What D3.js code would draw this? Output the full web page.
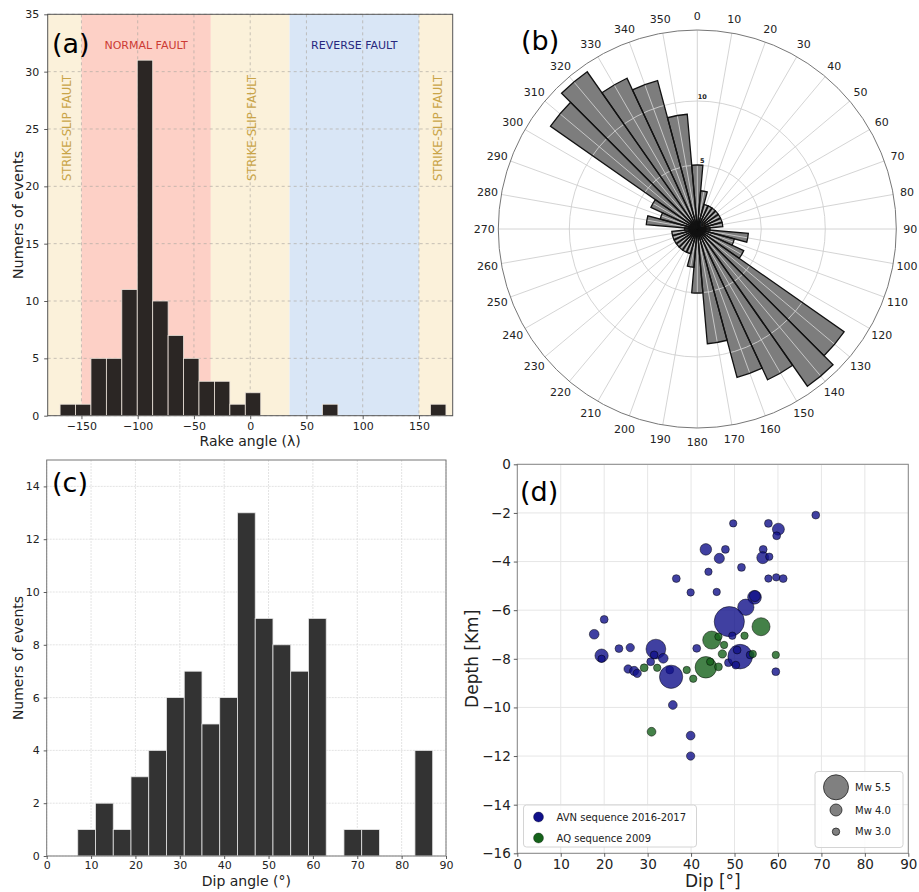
<!DOCTYPE html>
<html>
<head>
<meta charset="utf-8">
<script src="https://cdn.jsdelivr.net/npm/d3@7"></script>
<style>
  body { margin: 0; background: #fff; }
  svg { display: block; }
  text { font-family: "DejaVu Sans", sans-serif; }
</style>
</head>
<body>
<svg id="fig" width="919" height="892"></svg>
<script>
// ---- data ----
// (a) rake histogram
var rakeRange = [-169, 174];
var rakeCounts = [1, 1, 5, 5, 11, 31, 10, 7, 5, 3, 3, 1, 2, 0, 0, 0, 0, 1, 0, 0, 0, 0, 0, 0, 1];
var rakeTicksX = [-150, -100, -50, 0, 50, 100, 150];
var rakeTicksY = [0, 5, 10, 15, 20, 25, 30, 35];
var zoneNames = ["STRIKE-SLIP FAULT", "NORMAL FAULT", "STRIKE-SLIP FAULT", "REVERSE FAULT", "STRIKE-SLIP FAULT"];
var zoneEdges = [-180, -150, -35, 35, 150, 180];

// (b) strike rose, bins centred every 10 deg
var strikeAngles = d3.range(0, 360, 10);
var strikeCounts = [5, 3, 2, 2, 2, 2, 2, 2, 2, 1, 4, 3, 4, 14, 15, 13, 12, 9,
                    5, 3, 2, 2, 2, 2, 2, 2, 2, 1, 4, 3, 4, 14, 15, 13, 12, 9];
var roseRings = [5, 10];

// (c) dip histogram
var dipRange = [7, 87];
var dipCounts = [1, 2, 1, 3, 4, 6, 7, 5, 6, 13, 9, 8, 7, 9, 0, 1, 1, 0, 0, 4];
var dipTicksX = [0, 10, 20, 30, 40, 50, 60, 70, 80, 90];
var dipTicksY = [0, 2, 4, 6, 8, 10, 12, 14];

// (d) dip vs depth, [dip, depth, Mw]
var avnEvents = [
  [68.7, -2.09, 3.1], [49.7, -2.43, 3.0], [57.8, -2.43, 3.1], [60.1, -2.67, 4.0], [59.7, -2.94, 3.1],
  [43.4, -3.5, 3.9], [47.9, -3.5, 3.1], [56.6, -3.5, 3.1], [46.5, -3.87, 3.6], [56.5, -3.84, 4.0],
  [58.0, -3.8, 3.0], [51.6, -4.24, 3.1], [44.0, -4.42, 3.0], [36.6, -4.7, 3.1], [57.8, -4.7, 3.0],
  [59.6, -4.65, 3.0], [61.2, -4.7, 3.1], [39.9, -5.27, 3.0], [45.9, -5.25, 3.0], [54.6, -5.47, 4.2],
  [54.7, -5.42, 3.8], [52.6, -5.88, 4.5], [48.8, -6.47, 6.1], [20.0, -6.38, 3.1], [17.7, -6.99, 3.5],
  [19.4, -7.87, 4.15], [19.4, -8.0, 3.0], [23.4, -7.58, 3.1], [26.0, -7.54, 3.2], [31.9, -7.6, 4.9],
  [31.5, -7.84, 3.1], [33.6, -7.98, 3.5], [30.7, -8.12, 3.1], [25.5, -8.42, 3.2], [26.9, -8.5, 3.4],
  [27.6, -8.6, 3.2], [35.1, -8.46, 3.1], [35.4, -8.74, 5.3], [41.3, -7.57, 3.1], [48.6, -8.16, 3.1],
  [49.5, -7.05, 3.0], [51.3, -7.91, 5.45], [50.6, -7.64, 3.1], [53.6, -7.84, 3.1], [59.5, -8.53, 3.1],
  [50.3, -8.26, 3.1], [35.8, -9.9, 3.3], [39.9, -11.16, 3.3], [39.9, -12.0, 3.2]
];
var aqEvents = [
  [44.75, -7.23, 4.7], [29.2, -8.37, 3.1], [32.2, -8.37, 3.0], [39.0, -8.46, 3.0], [40.5, -8.82, 3.0],
  [43.4, -8.35, 5.1], [44.4, -8.12, 3.0], [46.3, -8.33, 3.1], [47.2, -7.8, 3.2], [47.6, -7.43, 3.0],
  [46.3, -7.09, 3.0], [52.3, -7.05, 3.0], [56.1, -6.68, 4.7], [54.2, -7.8, 3.0], [59.5, -7.84, 3.0],
  [30.9, -11.0, 3.3]
];
var depthTicks = [0, -2, -4, -6, -8, -10, -12, -14, -16];
var dipTicksD = [0, 10, 20, 30, 40, 50, 60, 70, 80, 90];
var seriesNames = ["AVN sequence 2016-2017", "AQ sequence 2009"];
var mwLegend = [5.5, 4.0, 3.0];

var svg = d3.select("#fig");

function styleAxis(g, size) {
  g.select(".domain").remove();
  g.selectAll(".tick text").attr("font-size", size).attr("fill", "#222")
    .attr("font-family", "DejaVu Sans");
  g.selectAll(".tick line").attr("stroke", "#333").attr("stroke-width", 0.8);
}

function panelLetter(x, y, t) {
  svg.append("text").attr("x", x).attr("y", y).text(t)
    .attr("font-family", "Liberation Sans, Arial, sans-serif")
    .attr("font-size", 27).attr("fill", "#000");
}

// ================= (a) =================
var A = { left: 47.7, right: 452.7, top: 14.3, bottom: 415.7 };
var xA = d3.scaleLinear().domain([-180, 180]).range([A.left, A.right]);
var yA = d3.scaleLinear().domain([0, 35]).range([A.bottom, A.top]);
var gA = svg.append("g");
var zoneFill = { "STRIKE-SLIP FAULT": "#fbf1da", "NORMAL FAULT": "#fdd0c6", "REVERSE FAULT": "#d9e6f6" };
var zoneText = { "STRIKE-SLIP FAULT": "#c9a448", "NORMAL FAULT": "#cc3a34", "REVERSE FAULT": "#28287e" };
var zones = zoneNames.map(function(n, i) { return { name: n, x0: zoneEdges[i], x1: zoneEdges[i + 1] }; });

gA.selectAll(".zone").data(zones).enter().append("rect")
  .attr("x", function(d) { return xA(d.x0); })
  .attr("width", function(d) { return xA(d.x1) - xA(d.x0); })
  .attr("y", A.top).attr("height", A.bottom - A.top)
  .attr("fill", function(d) { return zoneFill[d.name]; });

// dashed grid
gA.selectAll(".gx").data(rakeTicksX).enter().append("line")
  .attr("x1", function(d) { return xA(d); }).attr("x2", function(d) { return xA(d); })
  .attr("y1", A.top).attr("y2", A.bottom)
  .attr("stroke", "#b0aaa4").attr("stroke-width", 0.7).attr("stroke-dasharray", "3,3");
gA.selectAll(".gy").data(rakeTicksY).enter().append("line")
  .attr("y1", function(d) { return yA(d); }).attr("y2", function(d) { return yA(d); })
  .attr("x1", A.left).attr("x2", A.right)
  .attr("stroke", "#b0aaa4").attr("stroke-width", 0.7).attr("stroke-dasharray", "3,3");

gA.selectAll(".ztxt").data(zones).enter().append("text")
  .attr("fill", function(d) { return zoneText[d.name]; })
  .attr("font-size", function(d) { return d.name == "STRIKE-SLIP FAULT" ? 11.5 : 11; })
  .attr("text-anchor", "middle")
  .attr("transform", function(d) {
    var cx = xA((d.x0 + d.x1) / 2);
    if (d.name == "STRIKE-SLIP FAULT") return "translate(" + (cx + 2) + ",128) rotate(-90)";
    return "translate(" + cx + ",49)";
  })
  .attr("dy", function(d) { return d.name == "STRIKE-SLIP FAULT" ? "0.35em" : 0; })
  .text(function(d) { return d.name; });

var rakeStep = (rakeRange[1] - rakeRange[0]) / rakeCounts.length;
gA.selectAll(".bar").data(rakeCounts.map(function(c, i) {
    return { x0: rakeRange[0] + i * rakeStep, x1: rakeRange[0] + (i + 1) * rakeStep, c: c };
  }).filter(function(d) { return d.c > 0; }))
  .enter().append("rect")
  .attr("x", function(d) { return xA(d.x0); })
  .attr("width", function(d) { return xA(d.x1) - xA(d.x0); })
  .attr("y", function(d) { return yA(d.c); })
  .attr("height", function(d) { return A.bottom - yA(d.c); })
  .attr("fill", "#2b2624").attr("stroke", "#ebe3da").attr("stroke-width", 0.8);

gA.append("rect").attr("x", A.left).attr("y", A.top)
  .attr("width", A.right - A.left).attr("height", A.bottom - A.top)
  .attr("fill", "none").attr("stroke", "#555").attr("stroke-width", 1);

gA.append("g").attr("transform", "translate(0," + A.bottom + ")")
  .call(d3.axisBottom(xA).tickValues(rakeTicksX).tickSize(3.5).tickPadding(3))
  .call(styleAxis, 11);
gA.append("g").attr("transform", "translate(" + A.left + ",0)")
  .call(d3.axisLeft(yA).tickValues(rakeTicksY).tickSize(3.5).tickPadding(5))
  .call(styleAxis, 11);
gA.append("text").attr("x", (A.left + A.right) / 2).attr("y", 446)
  .attr("text-anchor", "middle").attr("font-size", 14).attr("fill", "#222")
  .text("Rake angle (\u03bb)");
gA.append("text").attr("transform", "translate(18," + (A.top + A.bottom) / 2 + ") rotate(-90)")
  .attr("text-anchor", "middle").attr("dy", "0.35em").attr("font-size", 14.5).attr("fill", "#222")
  .text("Numers of events");
panelLetter(52, 53, "(a)");

// ================= (b) =================
var B = { cx: 697.3, cy: 229, r: 199 };
var rR = d3.scaleLinear().domain([0, 15.55]).range([0, B.r]);
var gB = svg.append("g").attr("transform", "translate(" + B.cx + "," + B.cy + ")");
var rad = Math.PI / 180;
var roseData = strikeAngles.map(function(a, i) { return { a: a, v: strikeCounts[i] }; });
var arc = d3.arc().innerRadius(0)
  .outerRadius(function(d) { return rR(d.v); })
  .startAngle(function(d) { return (d.a - 5) * rad; })
  .endAngle(function(d) { return (d.a + 5) * rad; });

gB.selectAll(".wedge").data(roseData).enter().append("path")
  .attr("d", arc).attr("fill", "#7d7d7d");

// grid on top of wedges
gB.selectAll(".spoke").data(strikeAngles).enter().append("line")
  .attr("x1", 0).attr("y1", 0)
  .attr("x2", function(d) { return B.r * Math.sin(d * rad); })
  .attr("y2", function(d) { return -B.r * Math.cos(d * rad); })
  .attr("stroke", "#cfcfcf").attr("stroke-width", 0.9);
gB.selectAll(".ring").data(roseRings).enter().append("circle")
  .attr("r", function(d) { return rR(d); })
  .attr("fill", "none").attr("stroke", "#cfcfcf").attr("stroke-width", 0.9);

gB.selectAll(".wedgeEdge").data(roseData).enter().append("path")
  .attr("d", arc).attr("fill", "none").attr("stroke", "#111").attr("stroke-width", 1.3);

gB.append("circle").attr("r", B.r).attr("fill", "none").attr("stroke", "#777").attr("stroke-width", 1);

gB.selectAll(".alab").data(strikeAngles).enter().append("text")
  .attr("x", function(d) { return 213 * Math.sin(d * rad); })
  .attr("y", function(d) { return -213 * Math.cos(d * rad); })
  .attr("text-anchor", "middle").attr("dy", "0.35em")
  .attr("font-size", 11).attr("fill", "#222")
  .text(function(d) { return d; });

gB.selectAll(".rlab").data([0].concat(roseRings)).enter().append("text")
  .attr("x", 5).attr("y", function(d) { return -rR(d) - 2; })
  .attr("text-anchor", "middle").attr("font-size", 6.5).attr("font-weight", "bold").attr("fill", "#222")
  .text(function(d) { return d; });
panelLetter(521, 50, "(b)");

// ================= (c) =================
var C = { left: 46.7, right: 446, top: 460, bottom: 856 };
var xC = d3.scaleLinear().domain([0, 90]).range([C.left, C.right]);
var yC = d3.scaleLinear().domain([0, 15]).range([C.bottom, C.top]);
var gC = svg.append("g");
gC.selectAll(".gx").data(dipTicksX).enter().append("line")
  .attr("x1", function(d) { return xC(d); }).attr("x2", function(d) { return xC(d); })
  .attr("y1", C.top).attr("y2", C.bottom)
  .attr("stroke", "#dcdcdc").attr("stroke-width", 0.8).attr("stroke-dasharray", "2,1");
gC.selectAll(".gy").data(dipTicksY).enter().append("line")
  .attr("y1", function(d) { return yC(d); }).attr("y2", function(d) { return yC(d); })
  .attr("x1", C.left).attr("x2", C.right)
  .attr("stroke", "#dcdcdc").attr("stroke-width", 0.8).attr("stroke-dasharray", "2,1");

var dipStep = (dipRange[1] - dipRange[0]) / dipCounts.length;
gC.selectAll(".bar").data(dipCounts.map(function(c, i) {
    return { x0: dipRange[0] + i * dipStep, x1: dipRange[0] + (i + 1) * dipStep, c: c };
  }).filter(function(d) { return d.c > 0; }))
  .enter().append("rect")
  .attr("x", function(d) { return xC(d.x0); })
  .attr("width", function(d) { return xC(d.x1) - xC(d.x0); })
  .attr("y", function(d) { return yC(d.c); })
  .attr("height", function(d) { return C.bottom - yC(d.c); })
  .attr("fill", "#333333").attr("stroke", "#e6e6e6").attr("stroke-width", 0.8);

gC.append("rect").attr("x", C.left).attr("y", C.top)
  .attr("width", C.right - C.left).attr("height", C.bottom - C.top)
  .attr("fill", "none").attr("stroke", "#777").attr("stroke-width", 1);
gC.append("g").attr("transform", "translate(0," + C.bottom + ")")
  .call(d3.axisBottom(xC).tickValues(dipTicksX).tickSize(3).tickPadding(2))
  .call(styleAxis, 11);
gC.append("g").attr("transform", "translate(" + C.left + ",0)")
  .call(d3.axisLeft(yC).tickValues(dipTicksY).tickSize(3).tickPadding(4))
  .call(styleAxis, 11);
gC.append("text").attr("x", (C.left + C.right) / 2).attr("y", 886)
  .attr("text-anchor", "middle").attr("font-size", 14).attr("fill", "#222")
  .text("Dip angle (\u00b0)");
gC.append("text").attr("transform", "translate(18," + (C.top + C.bottom) / 2 + ") rotate(-90)")
  .attr("text-anchor", "middle").attr("dy", "0.35em").attr("font-size", 14).attr("fill", "#222")
  .text("Numers of events");
panelLetter(52, 492, "(c)");

// ================= (d) =================
var D = { left: 517.3, right: 908.3, top: 464.3, bottom: 853.3 };
var xD = d3.scaleLinear().domain([0, 90]).range([D.left, D.right]);
var yD = d3.scaleLinear().domain([-16, 0]).range([D.bottom, D.top]);
var rMw = d3.scaleLinear().domain([3, 4, 5.5]).range([3.7, 6, 12.5]);
var gD = svg.append("g");
gD.selectAll(".gx").data(dipTicksD).enter().append("line")
  .attr("x1", function(d) { return xD(d); }).attr("x2", function(d) { return xD(d); })
  .attr("y1", D.top).attr("y2", D.bottom)
  .attr("stroke", "#e6e6e6").attr("stroke-width", 1);
gD.selectAll(".gy").data(depthTicks).enter().append("line")
  .attr("y1", function(d) { return yD(d); }).attr("y2", function(d) { return yD(d); })
  .attr("x1", D.left).attr("x2", D.right)
  .attr("stroke", "#e6e6e6").attr("stroke-width", 1);

var seriesFill = ["#10108a", "#15621a"];
[avnEvents, aqEvents].forEach(function(ev, k) {
  gD.selectAll(".pt" + k).data(ev).enter().append("circle")
    .attr("cx", function(d) { return xD(d[0]); })
    .attr("cy", function(d) { return yD(d[1]); })
    .attr("r", function(d) { return rMw(d[2]); })
    .attr("fill", seriesFill[k]).attr("fill-opacity", 0.8)
    .attr("stroke", "#000").attr("stroke-opacity", 0.6).attr("stroke-width", 0.8);
});

gD.append("rect").attr("x", D.left).attr("y", D.top)
  .attr("width", D.right - D.left).attr("height", D.bottom - D.top)
  .attr("fill", "none").attr("stroke", "#888").attr("stroke-width", 1);
gD.append("g").attr("transform", "translate(0," + D.bottom + ")")
  .call(d3.axisBottom(xD).tickValues(dipTicksD).tickSize(3.5).tickPadding(3))
  .call(styleAxis, 13.5);
gD.append("g").attr("transform", "translate(" + D.left + ",0)")
  .call(d3.axisLeft(yD).tickValues(depthTicks).tickSize(3.5).tickPadding(3))
  .call(styleAxis, 13.5);
gD.append("text").attr("x", (D.left + D.right) / 2).attr("y", 887)
  .attr("text-anchor", "middle").attr("font-size", 17).attr("fill", "#222")
  .text("Dip [\u00b0]");
gD.append("text").attr("transform", "translate(472," + (D.top + D.bottom) / 2 + ") rotate(-90)")
  .attr("text-anchor", "middle").attr("dy", "0.35em").attr("font-size", 17).attr("fill", "#222")
  .text("Depth [Km]");
panelLetter(520, 501, "(d)");

// legend: series
var lg = gD.append("g").attr("transform", "translate(523.5,805)");
lg.append("rect").attr("width", 173).attr("height", 42).attr("rx", 3)
  .attr("fill", "#fff").attr("fill-opacity", 0.85).attr("stroke", "#d4d4d4");
seriesNames.forEach(function(n, k) {
  lg.append("circle").attr("cx", 15).attr("cy", 12 + k * 21).attr("r", 5)
    .attr("fill", seriesFill[k]).attr("stroke", "#000").attr("stroke-opacity", 0.5).attr("stroke-width", 0.6);
  lg.append("text").attr("x", 33).attr("y", 12 + k * 21).attr("dy", "0.35em")
    .attr("font-size", 10).attr("fill", "#222").text(n);
});

// legend: magnitude
var lm = gD.append("g").attr("transform", "translate(815,771.5)");
lm.append("rect").attr("width", 88).attr("height", 76).attr("rx", 3)
  .attr("fill", "#fff").attr("fill-opacity", 0.85).attr("stroke", "#d4d4d4");
mwLegend.forEach(function(m, k) {
  var cy = [15.8, 38.5, 60.2][k];
  lm.append("circle").attr("cx", 21).attr("cy", cy).attr("r", rMw(m))
    .attr("fill", "#808080").attr("stroke", "#222").attr("stroke-width", 0.8);
  lm.append("text").attr("x", 40).attr("y", cy).attr("dy", "0.35em")
    .attr("font-size", 10).attr("fill", "#222").text("Mw " + d3.format(".1f")(m));
});
</script>
</body>
</html>
